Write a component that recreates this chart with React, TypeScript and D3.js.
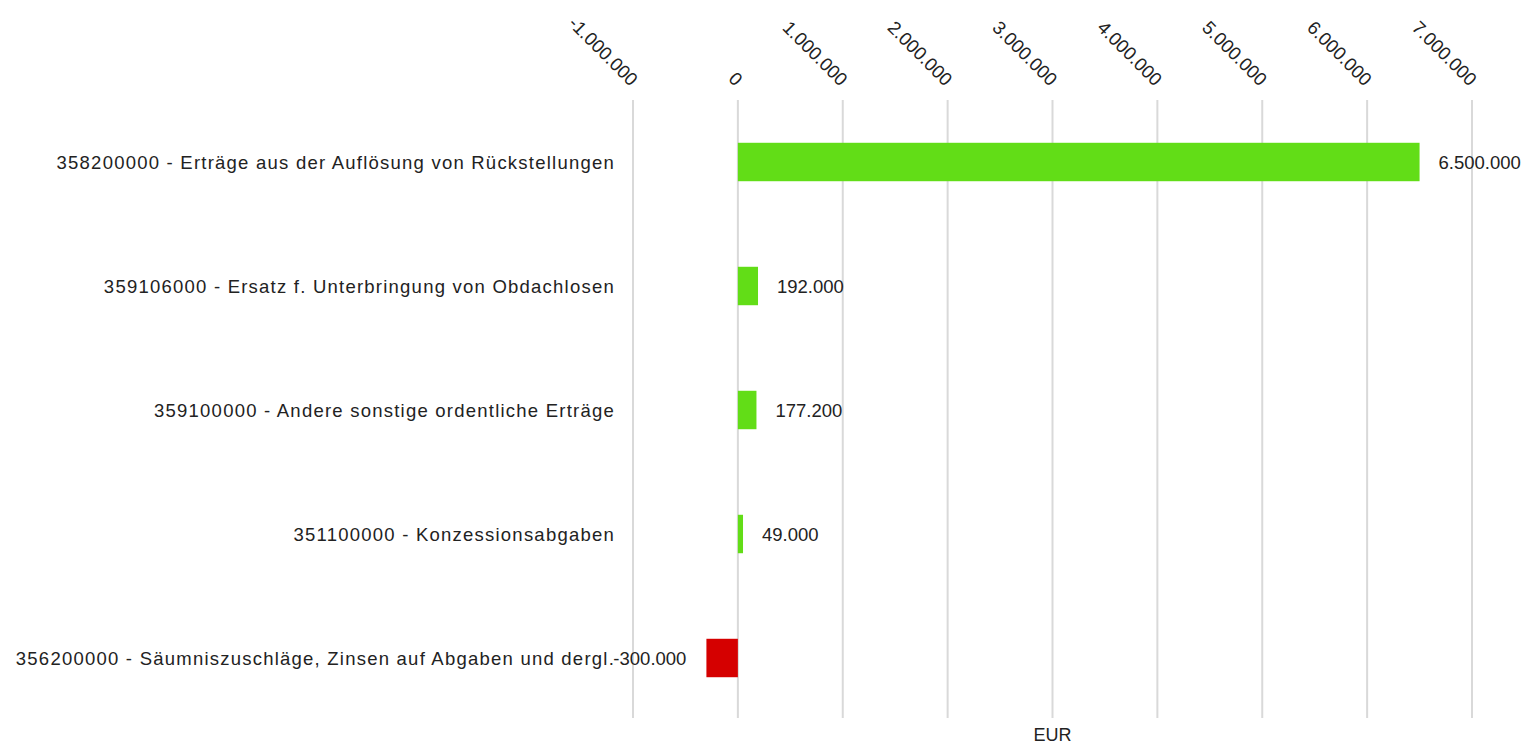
import React, { useEffect, useRef } from 'react'
import * as d3 from 'd3'

const categories = [
  '358200000 - Erträge aus der Auflösung von Rückstellungen',
  '359106000 - Ersatz f. Unterbringung von Obdachlosen',
  '359100000 - Andere sonstige ordentliche Erträge',
  '351100000 - Konzessionsabgaben',
  '356200000 - Säumniszuschläge, Zinsen auf Abgaben und dergl.',
]
const values = [6500000, 192000, 177200, 49000, -300000]
const tickValues = [-1000000, 0, 1000000, 2000000, 3000000, 4000000, 5000000, 6000000, 7000000]
const axisTitle = 'EUR'

const W = 1539
const H = 745

const de = d3.formatLocale({
  decimal: ',',
  thousands: '.',
  grouping: [3],
  currency: ['', ' €'],
  minus: '-',
})
const fmt = de.format(',.0f')

const App = () => {
  const svg = useRef<SVGSVGElement>(null)

  useEffect(() => {
    const root = d3.select(svg.current)
    root.selectAll('*').remove()

    const x = d3.scaleLinear().domain([-1000000, 7000000]).range([633, 1472])
    const y = d3
      .scaleBand()
      .domain(categories)
      .range([100, 720])
      .paddingInner(0.69)
      .paddingOuter(0.345)

    const font = '"Liberation Sans", Arial, sans-serif'

    // grid lines
    root
      .append('g')
      .selectAll('line')
      .data(tickValues)
      .enter()
      .append('line')
      .attr('x1', d => x(d))
      .attr('x2', d => x(d))
      .attr('y1', 100)
      .attr('y2', 718)
      .attr('stroke', '#d9d9d9')
      .attr('stroke-width', 2)

    // rotated tick labels on top
    root
      .append('g')
      .selectAll('text')
      .data(tickValues)
      .enter()
      .append('text')
      .attr('transform', d => `translate(${x(d) - 3}, 87) rotate(45)`)
      .attr('text-anchor', 'end')
      .attr('font-family', font)
      .attr('font-size', 18.5)
      .attr('fill', '#222')
      .text(d => fmt(d))

    // bars
    root
      .append('g')
      .selectAll('rect')
      .data(values)
      .enter()
      .append('rect')
      .attr('x', d => x(Math.min(0, d)))
      .attr('y', (d, i) => y(categories[i]))
      .attr('width', d => Math.abs(x(d) - x(0)))
      .attr('height', y.bandwidth())
      .attr('fill', d => (d < 0 ? '#d50000' : '#62dd17'))

    // category labels
    root
      .append('g')
      .selectAll('text')
      .data(categories)
      .enter()
      .append('text')
      .attr('x', 615)
      .attr('y', d => y(d) + y.bandwidth() / 2)
      .attr('dy', '0.36em')
      .attr('text-anchor', 'end')
      .attr('font-family', font)
      .attr('font-size', 18.5)
      .attr('letter-spacing', 1.23)
      .attr('fill', '#222')
      .text(d => d)

    // value labels
    root
      .append('g')
      .selectAll('text')
      .data(values)
      .enter()
      .append('text')
      .attr('x', d => (d < 0 ? x(d) - 20 : x(d) + 19))
      .attr('y', (d, i) => y(categories[i]) + y.bandwidth() / 2)
      .attr('dy', '0.36em')
      .attr('text-anchor', d => (d < 0 ? 'end' : 'start'))
      .attr('font-family', font)
      .attr('font-size', 18.5)
      .attr('fill', '#222')
      .text(d => fmt(d))

    root
      .append('text')
      .attr('x', (x.range()[0] + x.range()[1]) / 2)
      .attr('y', 741)
      .attr('text-anchor', 'middle')
      .attr('font-family', font)
      .attr('font-size', 18)
      .attr('fill', '#222')
      .text(axisTitle)
  }, [])

  return (
    <svg
      ref={svg}
      width={W}
      height={H}
      style={{ position: 'absolute', left: 0, top: 0, background: '#fff' }}
    ></svg>
  )
}

export default App
